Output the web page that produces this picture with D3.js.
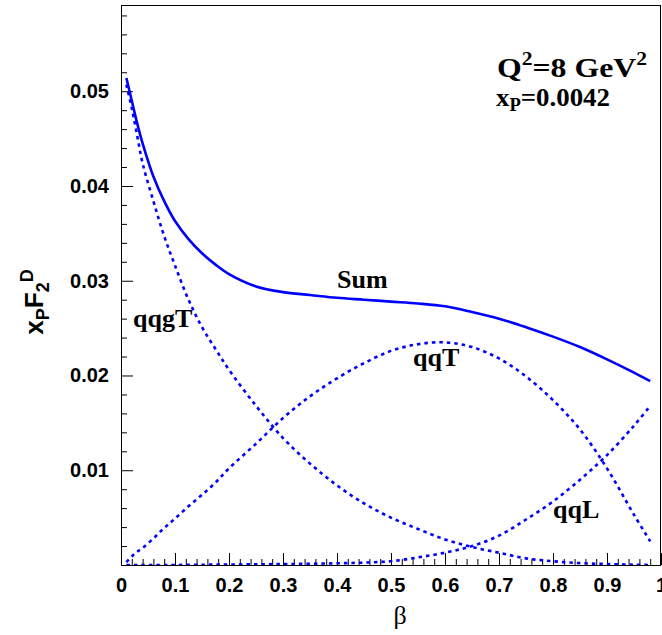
<!DOCTYPE html>
<html><head><meta charset="utf-8">
<script src="https://cdn.jsdelivr.net/npm/d3@7"></script>
<style>body{margin:0;background:#fff}</style>
</head><body><svg id="c" width="662" height="635"></svg>
<script>
// β grid
const beta = [0.01,0.02,0.03,0.04,0.06,0.08,0.10,0.125,0.15,0.175,0.20,0.25,0.30,0.35,0.40,0.45,0.50,0.55,0.60,0.65,0.70,0.75,0.80,0.85,0.90,0.95,0.98];
const sumVals  = [0.0514,0.0490,0.0466,0.0445,0.0410,0.0384,0.0363,0.0344,0.0329,0.0317,0.0307,0.0294,0.0288,0.0285,0.0282,0.0280,0.0278,0.0276,0.0273,0.0267,0.0260,0.0251,0.0241,0.0230,0.0217,0.0203,0.0194];
const qqgTVals = [0.0507,0.0482,0.0453,0.0424,0.0384,0.0347,0.0316,0.0280,0.0251,0.0228,0.0206,0.0168,0.0134,0.0107,0.0084,0.0065,0.0050,0.0038,0.0027,0.0019,0.0013,0.0007,0.0004,0.0002,0.0001,0.00003,0.0];
const qqTVals  = [0.0003,0.0009,0.0014,0.0018,0.0028,0.0039,0.0049,0.0062,0.0074,0.0087,0.0102,0.0128,0.0155,0.0178,0.0197,0.0213,0.0226,0.0233,0.0235,0.0230,0.0218,0.0199,0.0174,0.0143,0.0102,0.0053,0.0025];
const qqLVals  = [0.0,0.0,0.0,0.0,0.0,0.0,0.0,0.00002,0.00003,0.00004,0.00005,0.00007,0.0001,0.00013,0.00018,0.00025,0.0004,0.0008,0.0013,0.0020,0.0031,0.0048,0.0067,0.0090,0.0116,0.0147,0.0168];

const xTicks = [0,0.1,0.2,0.3,0.4,0.5,0.6,0.7,0.8,0.9,1];
const xTickLabels = ["0","0.1","0.2","0.3","0.4","0.5","0.6","0.7","0.8","0.9","1"];
const yTicks = [0.01,0.02,0.03,0.04,0.05];
const yTickLabels = ["0.01","0.02","0.03","0.04","0.05"];

const svg = d3.select("#c");
const L = 121, R = 661, T = 5, B = 565;
const x = d3.scaleLinear().domain([0,1]).range([L,R]);
const y = d3.scaleLinear().domain([0,0.0591]).range([B,T]);

const sansBold = "font-family:'Liberation Sans',Arial,Helvetica,sans-serif;font-weight:bold;";
const serifBold = "font-family:'Liberation Serif','Times New Roman',serif;font-weight:bold;";

svg.append("clipPath").attr("id","clip").append("rect").attr("x",L).attr("y",T).attr("width",R-L).attr("height",B-T);

// minor ticks
const xMinor = d3.range(0,51).map(i=>i*0.02).filter(v=>Math.abs(v*10-Math.round(v*10))>1e-6);
const yMinor = d3.range(1,30).map(i=>i*0.002).filter(v=>Math.abs(v*100-Math.round(v*100))>1e-6);

svg.append("g").attr("transform",`translate(0,${B})`)
  .call(d3.axisBottom(x).tickValues(xMinor).tickSize(-6).tickFormat(""))
  .call(g=>g.select(".domain").remove())
  .call(g=>g.selectAll("line").attr("stroke","#000").attr("stroke-width",1));
svg.append("g").attr("transform",`translate(${L},0)`)
  .call(d3.axisLeft(y).tickValues(yMinor).tickSize(-6).tickFormat(""))
  .call(g=>g.select(".domain").remove())
  .call(g=>g.selectAll("line").attr("stroke","#000").attr("stroke-width",1));

// major ticks + labels
svg.append("g").attr("transform",`translate(0,${B})`)
  .call(d3.axisBottom(x).tickValues(xTicks).tickSize(-12).tickPadding(13).tickFormat((d,i)=>xTickLabels[i]))
  .call(g=>g.select(".domain").remove())
  .call(g=>g.selectAll("line").attr("stroke","#000").attr("stroke-width",1))
  .call(g=>g.selectAll("text").attr("style",sansBold+"font-size:20px;fill:#000"));
svg.append("g").attr("transform",`translate(${L},0)`)
  .call(d3.axisLeft(y).tickValues(yTicks).tickSize(-12).tickPadding(12).tickFormat((d,i)=>yTickLabels[i]))
  .call(g=>g.select(".domain").remove())
  .call(g=>g.selectAll("line").attr("stroke","#000").attr("stroke-width",1))
  .call(g=>g.selectAll("text").attr("style",sansBold+"font-size:20px;fill:#000"));

// frame
svg.append("rect").attr("x",L+0.5).attr("y",T+0.5).attr("width",R-L-1).attr("height",B-T)
  .attr("fill","none").attr("stroke","#000").attr("stroke-width",1);

// curves
const line = vals => d3.line().x((d,i)=>x(beta[i])).y(d=>y(d)).curve(d3.curveCatmullRom.alpha(0.5))(vals);
const curves = svg.append("g").attr("clip-path","url(#clip)");
curves.append("path").attr("d",line(sumVals)).attr("fill","none").attr("stroke","#0000ff").attr("stroke-width",2.6);
[qqgTVals,qqTVals,qqLVals].forEach(v=>{
  curves.append("path").attr("d",line(v)).attr("fill","none").attr("stroke","#0000ff")
    .attr("stroke-width",2.6).attr("stroke-dasharray","3.5,4");
});

// curve labels
const labels = [["Sum",337,288],["qqT",413,366],["qqgT",133,327],["qqL",553,518]];
labels.forEach(([t,lx,ly])=>svg.append("text").attr("x",lx).attr("y",ly).attr("style",serifBold+"font-size:26px;fill:#000").text(t));

// Q2 annotation
const q = svg.append("text").attr("x",497).attr("y",77).attr("textLength",150).attr("lengthAdjust","spacingAndGlyphs")
  .attr("style",serifBold+"font-size:28px;fill:#000");
q.append("tspan").text("Q");
q.append("tspan").attr("dy",-12).attr("style","font-size:19px").text("2");
q.append("tspan").attr("dy",12).text("=8 GeV");
q.append("tspan").attr("dy",-12).attr("style","font-size:19px").text("2");
const xp = svg.append("text").attr("x",496).attr("y",106).attr("textLength",114).attr("lengthAdjust","spacingAndGlyphs")
  .attr("style",serifBold+"font-size:26px;fill:#000");
xp.append("tspan").text("x");
xp.append("tspan").attr("dy",5).attr("style","font-size:18px").text("P");
xp.append("tspan").attr("dy",-5).text("=0.0042");

// axis titles
svg.append("text").attr("x",400).attr("y",624).attr("text-anchor","middle")
  .attr("style","font-family:'Liberation Serif','Times New Roman',serif;font-size:26px;fill:#000").text("β");
const yt = svg.append("text").attr("transform","translate(43,302) rotate(-90)").attr("text-anchor","middle")
  .attr("style",sansBold+"font-size:26px;fill:#000");
yt.append("tspan").text("x");
yt.append("tspan").attr("dy",6).attr("style","font-size:18px").text("P");
yt.append("tspan").attr("dy",-6).text("F");
yt.append("tspan").attr("dy",6).attr("style","font-size:18px").text("2");
yt.append("tspan").attr("dy",-16).attr("style","font-size:18px").text("D");
</script></body></html>
